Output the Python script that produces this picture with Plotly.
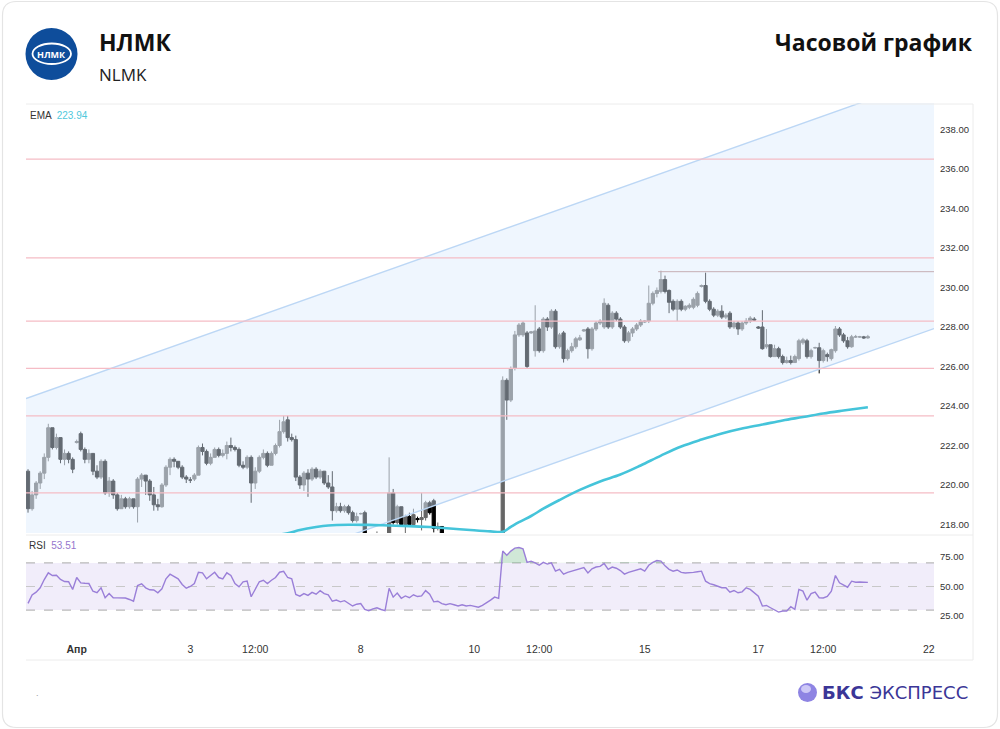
import plotly.graph_objects as go

W, H = 1000, 729

# ---------------- data ----------------
opens = [220.7, 218.8, 219.5, 220.1, 220.6, 221.4, 222.9, 221.9, 222.4, 221.3, 221.6, 221.3, 222.15,
         222.6, 221.8, 221.3, 221.6, 220.7, 220.4, 221.2, 219.6, 220.2, 219.5, 218.8, 219.3, 218.9, 219.3,
         218.9, 220.3, 220.5, 220.2, 219.5, 219.0, 218.9, 220.0, 220.9, 221.3, 221.2, 220.9, 220.4, 220.25,
         220.3, 220.5, 221.9, 221.7, 221.1, 221.4, 221.8, 221.5, 221.6, 222.0, 221.9, 221.8, 221.0, 220.9,
         221.4, 220.1, 220.7, 221.4, 221.6, 221.0, 221.6, 222.0, 222.7, 223.3, 222.4, 222.3, 220.4, 220.0,
         220.6, 220.3, 220.8, 220.4, 220.7, 220.1, 219.9, 218.7, 218.9, 218.7, 218.9, 218.6, 218.2, 218.55,
         218.6, 217.2, 217.0, 217.3, 217.4, 217.1, 216.9, 219.6, 218.1, 218.9, 218.0, 218.4, 218.0, 218.3,
         218.25, 218.35, 219.1, 219.2, 217.8, 217.9, 217.5, 217.2, 217.3, 217.1, 216.9, 217.0, 216.8, 216.9,
         216.8, 216.6, 216.8, 217.0, 217.3, 217.5, 217.4, 225.3, 224.3, 225.9, 227.6, 227.6, 227.7, 227.7,
         226.8, 227.9, 226.8, 228.4, 228.0, 228.8, 227.0, 227.7, 226.4, 226.8, 227.0, 227.35, 227.8, 227.9,
         226.9, 227.9, 228.2, 228.0, 229.1, 228.0, 228.7, 228.4, 228.0, 227.3, 227.7, 227.9, 228.1, 228.25,
         228.3, 229.2, 229.7, 229.8, 230.4, 229.85, 229.3, 228.9, 229.3, 228.9, 229.0, 229.0, 229.1, 230.05,
         230.1, 229.3, 228.9, 228.6, 228.8, 228.5, 228.7, 228.0, 228.2, 227.9, 228.2, 228.3, 228.4, 228.0,
         228.0, 227.0, 227.1, 226.5, 226.9, 226.5, 226.2, 226.3, 226.2, 226.4, 227.2, 227.3, 226.5, 226.95,
         226.95, 226.3, 226.6, 226.4, 226.8, 227.9, 227.6, 227.3, 227.0, 227.5, 227.5, 227.5, 227.45]
highs = [220.8, 219.7, 220.2, 220.7, 221.6, 223.1, 222.9, 222.6, 222.4, 221.8, 221.7, 221.4, 222.3,
         222.7, 221.9, 221.8, 221.6, 221.0, 221.3, 221.3, 220.4, 220.3, 219.6, 219.5, 219.4, 219.4, 219.3,
         220.4, 220.6, 220.5, 220.3, 219.9, 219.3, 220.1, 221.0, 221.4, 221.4, 221.2, 221.0, 220.5, 220.4,
         220.6, 222.0, 222.1, 221.8, 221.6, 221.9, 221.9, 221.8, 222.2, 222.4, 222.0, 221.9, 221.2, 221.5,
         221.5, 220.9, 221.5, 221.8, 221.7, 221.7, 222.1, 223.3, 223.5, 223.5, 222.6, 222.5, 220.5, 220.7,
         220.8, 220.9, 220.9, 220.8, 220.7, 220.5, 220.7, 219.1, 219.1, 219.0, 219.0, 218.7, 218.6, 218.6,
         218.7, 217.4, 217.5, 217.65, 217.5, 217.2, 221.4, 219.8, 219.0, 218.9, 218.5, 218.6, 218.8, 218.4,
         219.6, 219.2, 219.2, 219.3, 218.1, 217.9, 217.5, 217.4, 217.4, 217.2, 217.1, 217.1, 217.0, 217.0,
         216.9, 216.9, 217.1, 217.4, 217.5, 217.5, 225.5, 225.4, 226.0, 227.8, 228.2, 228.3, 227.8, 227.8,
         229.1, 228.0, 228.5, 228.5, 228.9, 228.9, 227.7, 227.8, 226.9, 227.2, 227.5, 227.6, 227.9, 228.0,
         228.0, 228.3, 228.4, 229.45, 229.2, 228.8, 228.8, 228.5, 228.1, 227.8, 228.0, 228.2, 228.4, 228.35,
         230.1, 229.8, 230.0, 230.85, 230.6, 229.9, 229.4, 229.4, 229.4, 229.1, 229.2, 229.5, 229.8, 230.15,
         230.75, 229.4, 229.0, 228.9, 229.1, 228.7, 228.8, 228.3, 228.3, 228.3, 228.45, 228.55, 228.5, 228.05,
         228.85, 227.9, 227.1, 227.1, 227.0, 226.6, 226.5, 226.55, 226.6, 227.4, 227.45, 227.4, 226.9, 227.0,
         227.2, 226.9, 226.7, 226.9, 228.05, 228.0, 227.7, 227.5, 227.6, 227.6, 227.55, 227.55, 227.6]
lows = [218.6, 218.7, 219.3, 219.8, 220.3, 221.2, 221.8, 221.8, 221.1, 221.0, 221.1, 220.6, 222.1,
        221.7, 221.1, 221.1, 220.5, 220.3, 220.3, 219.5, 219.4, 219.3, 218.7, 218.8, 218.8, 218.8, 218.8,
        218.1, 219.9, 219.5, 219.2, 218.7, 218.7, 218.85, 219.9, 220.5, 220.9, 220.8, 220.3, 220.1, 220.1,
        220.2, 220.5, 221.5, 221.0, 221.0, 221.4, 221.4, 221.4, 221.3, 221.7, 221.7, 220.9, 220.8, 220.8,
        219.1, 219.8, 220.6, 221.3, 220.9, 221.0, 221.5, 221.9, 222.6, 222.2, 222.2, 220.2, 219.8, 219.7,
        219.4, 220.2, 220.3, 220.3, 220.0, 219.8, 218.2, 218.6, 218.6, 218.6, 218.5, 218.1, 218.1, 218.5,
        217.0, 216.8, 216.9, 217.1, 216.9, 216.7, 216.8, 218.0, 218.0, 217.9, 217.5, 217.9, 217.9, 218.1,
        217.7, 218.2, 218.5, 217.6, 217.7, 217.4, 217.0, 217.0, 216.9, 216.7, 216.7, 216.6, 216.6, 216.6,
        216.4, 216.5, 216.7, 216.9, 217.2, 217.2, 217.2, 223.3, 224.2, 225.8, 227.5, 227.5, 225.9, 227.65,
        226.5, 226.7, 226.7, 227.8, 227.9, 226.9, 226.9, 226.2, 226.3, 226.7, 226.9, 227.3, 227.75, 226.4,
        226.8, 227.8, 228.1, 227.9, 227.9, 227.9, 228.3, 227.9, 227.2, 227.2, 227.5, 227.8, 228.0, 228.2,
        228.2, 229.1, 229.5, 229.7, 229.7, 228.7, 228.8, 228.3, 228.8, 228.8, 228.9, 228.9, 229.0, 230.0,
        229.2, 228.8, 228.5, 228.5, 228.4, 228.4, 227.9, 227.9, 227.6, 227.8, 228.1, 228.2, 228.3, 227.9,
        226.85, 226.9, 226.45, 226.5, 226.4, 226.1, 226.15, 226.1, 226.2, 226.3, 227.1, 226.4, 226.4, 226.9,
        225.65, 226.2, 226.25, 226.3, 226.7, 227.5, 227.2, 226.9, 226.95, 227.45, 227.45, 227.4, 227.4]
closes = [218.8, 219.5, 220.1, 220.6, 221.4, 222.9, 221.9, 222.4, 221.3, 221.6, 221.3, 220.8, 222.2,
          221.8, 221.3, 221.6, 220.7, 220.4, 221.2, 219.6, 220.2, 219.5, 218.8, 219.3, 218.9, 219.3, 218.9,
          220.3, 220.5, 220.2, 219.5, 219.0, 218.9, 220.0, 220.9, 221.3, 221.2, 220.9, 220.4, 220.3, 220.25,
          220.5, 221.9, 221.7, 221.1, 221.4, 221.8, 221.5, 221.6, 222.0, 221.9, 221.8, 221.0, 220.9, 221.4,
          220.1, 220.7, 221.4, 221.6, 221.0, 221.6, 222.0, 222.7, 223.2, 222.4, 222.3, 220.4, 220.0, 220.6,
          220.3, 220.8, 220.4, 220.7, 220.1, 219.9, 218.7, 218.9, 218.7, 218.9, 218.6, 218.2, 218.4, 218.55,
          217.2, 217.0, 217.3, 217.4, 217.1, 216.9, 219.6, 218.1, 218.9, 218.0, 218.4, 218.0, 218.5, 218.25,
          218.35, 219.1, 218.6, 217.8, 217.9, 217.5, 217.2, 217.3, 217.1, 216.9, 217.0, 216.8, 216.9, 216.8,
          216.6, 216.8, 217.0, 217.3, 217.5, 217.4, 225.3, 224.3, 225.9, 227.6, 228.1, 228.2, 226.0, 227.75,
          227.8, 226.8, 228.4, 228.0, 228.8, 227.0, 227.6, 226.4, 226.8, 227.0, 227.4, 227.45, 227.85, 226.9,
          227.9, 228.2, 228.3, 229.2, 228.0, 228.7, 228.4, 228.0, 227.3, 227.7, 227.9, 228.1, 228.3, 228.3,
          229.2, 229.7, 229.85, 230.4, 229.8, 229.25, 228.9, 229.3, 228.9, 229.05, 229.1, 229.4, 229.7, 230.1,
          229.3, 228.9, 228.6, 228.8, 228.5, 228.6, 228.0, 228.2, 227.9, 228.2, 228.3, 228.45, 228.35, 227.95,
          226.9, 227.1, 226.5, 226.9, 226.5, 226.2, 226.3, 226.2, 226.5, 227.3, 227.35, 226.5, 226.8, 226.95,
          226.3, 226.8, 226.5, 226.85, 227.9, 227.6, 227.3, 227.0, 227.5, 227.5, 227.5, 227.45, 227.5]

rsi = [35.7, 42.8, 45.2, 48.9, 55.9, 61.6, 59.3, 59.5, 56.0, 54.2, 54.0, 47.5, 57.6,
       53.1, 52.7, 52.5, 46.0, 44.7, 48.9, 40.5, 44.1, 40.5, 40.4, 40.4, 40.2, 39.0, 37.5,
       50.8, 52.3, 48.9, 47.2, 47.0, 44.7, 48.1, 56.5, 60.4, 58.2, 56.5, 51.7, 48.6, 50.0,
       52.5, 62.1, 61.6, 56.5, 59.3, 62.1, 57.6, 56.5, 61.6, 59.3, 52.5, 49.7, 54.0, 54.6,
       41.3, 48.1, 54.0, 55.3, 52.5, 55.3, 57.6, 62.1, 62.9, 57.6, 56.5, 43.2, 41.8, 44.0,
       42.5, 45.0, 43.5, 46.5, 44.0, 43.0, 37.5, 38.5, 37.0, 38.0, 36.0, 33.5, 35.0, 35.5,
       30.5, 29.5, 31.0, 32.0, 30.5, 29.5, 48.5, 41.0, 44.5, 40.0, 42.0, 40.5, 43.0, 41.5,
       42.0, 46.5, 43.5, 37.0, 37.5, 35.5, 34.5, 35.5, 34.5, 33.5, 34.5, 33.5, 34.0, 33.5,
       32.5, 34.0, 36.0, 38.5, 41.0, 40.0, 80.0, 76.5, 80.0, 82.5, 83.0, 82.0, 70.5, 71.5,
       70.0, 68.0, 70.5, 69.0, 70.0, 63.0, 64.5, 60.5, 62.0, 63.0, 64.5, 65.0, 66.0, 61.5,
       65.0, 66.5, 67.0, 69.5, 64.5, 66.5, 65.5, 63.5, 60.5, 62.0, 63.0, 64.0, 65.0, 63.0,
       68.0, 70.5, 72.0, 71.5, 67.5, 64.5, 63.0, 64.0, 62.0, 61.5, 61.5, 62.0, 62.5, 63.0,
       54.5, 52.5, 51.5, 50.3, 49.0, 49.0, 45.2, 46.6, 44.7, 45.5, 48.9, 47.5, 44.7, 41.8,
       33.4, 33.9, 32.0, 30.5, 28.3, 29.2, 29.2, 32.9, 30.7, 47.5, 46.1, 38.4, 44.0, 45.2,
       40.5, 40.3, 41.5, 46.0, 59.3, 53.1, 51.0, 49.4, 54.5, 53.6, 53.8, 53.6, 53.51]

bars = list(range(len(closes)))

ema_bars = [56, 64, 67, 71, 74, 79, 84, 89, 94, 99, 104, 109, 114, 117, 119, 121, 124, 127, 131,
            136, 141, 146, 151, 156, 161, 166, 171, 176, 181, 186, 191, 196, 201, 207]
ema_vals = [217.3, 217.56, 217.72, 217.87, 217.95, 217.99, 217.98, 217.95, 217.92, 217.87, 217.80,
            217.72, 217.65, 217.63, 217.88, 218.12, 218.43, 218.80, 219.24, 219.75, 220.18, 220.53,
            220.99, 221.49, 221.95, 222.30, 222.61, 222.86, 223.06, 223.27, 223.44, 223.62, 223.77, 223.94]

channel_x = [-0.5, 223.3]
channel_upper = [224.38, 240.67]
channel_lower = [211.63, 227.92]

levels = [236.5, 231.5, 228.3, 225.9, 223.5, 219.6]
high_level = 230.8
high_level_x = [155.3, 223.3]

x_range = [-0.5, 223.3]
tick_bars = [12, 40, 56, 82, 110, 126, 152, 180, 196, 222]
tick_text = ['<b>Апр</b>', '3', '12:00', '8', '10', '12:00', '15', '17', '12:00', '22']
price_ticks = [218, 220, 222, 224, 226, 228, 230, 232, 234, 236, 238]
rsi_ticks = [25, 50, 75]
rsi_levels = [30, 50, 70]

ema_last = 223.94
rsi_last = 53.51

# ---------------- helpers ----------------
def px(x):
    return x / W

def py(y):
    return 1 - y / H

fig = go.Figure()

# channel
fig.add_trace(go.Scatter(x=channel_x, y=channel_lower, mode='lines',
                         line=dict(color='#bcd7f5', width=1.4), hoverinfo='skip', showlegend=False))
fig.add_trace(go.Scatter(x=channel_x, y=channel_upper, mode='lines', fill='tonexty',
                         fillcolor='rgba(219,234,252,0.45)',
                         line=dict(color='#bcd7f5', width=1.4), hoverinfo='skip', showlegend=False))

# levels
for lv in levels:
    fig.add_trace(go.Scatter(x=x_range, y=[lv, lv], mode='lines',
                             line=dict(color='#f5bcc5', width=1.3), hoverinfo='skip', showlegend=False))
fig.add_trace(go.Scatter(x=high_level_x, y=[high_level, high_level], mode='lines',
                         line=dict(color='#c6aeb4', width=1), hoverinfo='skip', showlegend=False))

# candles
fig.add_trace(go.Candlestick(
    x=bars, open=opens, high=highs, low=lows, close=closes,
    increasing=dict(line=dict(color='#666666', width=1), fillcolor='#666666'),
    decreasing=dict(line=dict(color='#000000', width=1), fillcolor='#000000'),
    whiskerwidth=0, hoverinfo='skip', showlegend=False))

# EMA
fig.add_trace(go.Scatter(x=ema_bars, y=ema_vals, mode='lines', line_shape='spline',
                         line=dict(color='#45c4da', width=2.6), hoverinfo='skip', showlegend=False))

# RSI overbought fill
ob = [max(v, rsi_levels[2]) for v in rsi]
fig.add_trace(go.Scatter(x=bars, y=[rsi_levels[2]] * len(bars), mode='lines', line=dict(width=0),
                         yaxis='y2', hoverinfo='skip', showlegend=False))
fig.add_trace(go.Scatter(x=bars, y=ob, mode='lines', line=dict(width=0), fill='tonexty',
                         fillcolor='rgba(120,190,140,0.35)', yaxis='y2', hoverinfo='skip', showlegend=False))
# RSI line
fig.add_trace(go.Scatter(x=bars, y=rsi, mode='lines', line=dict(color='#9a7fd8', width=1.4),
                         yaxis='y2', hoverinfo='skip', showlegend=False))

shapes = []
# RSI band
shapes.append(dict(type='rect', xref='paper', yref='y2', x0=px(26), x1=px(934),
                   y0=rsi_levels[0], y1=rsi_levels[2], fillcolor='#f1edfa', line=dict(width=0), layer='below'))
for lv, col in zip(rsi_levels, ['#a8a8a8', '#c8c8c8', '#a8a8a8']):
    shapes.append(dict(type='line', xref='paper', yref='y2', x0=px(26), x1=px(934), y0=lv, y1=lv,
                       line=dict(color=col, width=1, dash='dash'), layer='below'))
# pane separators
for yy in [104, 535, 660]:
    shapes.append(dict(type='line', xref='paper', yref='paper', x0=px(26), x1=px(973),
                       y0=py(yy), y1=py(yy), line=dict(color='#ececec', width=1)))
shapes.append(dict(type='line', xref='paper', yref='paper', x0=px(973), x1=px(973),
                   y0=py(104), y1=py(660), line=dict(color='#ececec', width=1)))
# card border with rounded corners
x0, x1, y0, y1 = px(2.5), px(997.5), py(727.5), py(1.5)
rx, ry = 14 / W, 14 / H
path = (f"M {x0+rx},{y1} L {x1-rx},{y1} Q {x1},{y1} {x1},{y1-ry} L {x1},{y0+ry} "
        f"Q {x1},{y0} {x1-rx},{y0} L {x0+rx},{y0} Q {x0},{y0} {x0},{y0+ry} L {x0},{y1-ry} "
        f"Q {x0},{y1} {x0+rx},{y1} Z")
shapes.append(dict(type='path', xref='paper', yref='paper', path=path,
                   line=dict(color='#e4e4e4', width=1.2), layer='below'))
# logo circle
shapes.append(dict(type='circle', xref='paper', yref='paper', x0=px(25.5), x1=px(77.5),
                   y0=py(80), y1=py(28), fillcolor='#0e4d9b', line=dict(width=0)))
shapes.append(dict(type='circle', xref='paper', yref='paper', x0=px(32.5), x1=px(71),
                   y0=py(64), y1=py(43.5), fillcolor='rgba(0,0,0,0)', line=dict(color='white', width=1.8)))
# BKS sphere
shapes.append(dict(type='circle', xref='paper', yref='paper', x0=px(798), x1=px(817),
                   y0=py(702), y1=py(683), fillcolor='#8e84e3', line=dict(width=0)))
shapes.append(dict(type='circle', xref='paper', yref='paper', x0=px(801), x1=px(811),
                   y0=py(693), y1=py(685), fillcolor='#cdc8f6', line=dict(width=0)))

annotations = [
    dict(text='<b>НЛМК</b>', x=px(97), y=py(42), xref='paper', yref='paper', xanchor='left', yanchor='middle',
         showarrow=False, font=dict(family='Open Sans', size=23, color='#111111')),
    dict(text='NLMK', x=px(97), y=py(74), xref='paper', yref='paper', xanchor='left', yanchor='middle',
         showarrow=False, font=dict(family='Open Sans', size=17, color='#222222')),
    dict(text='<b>Часовой график</b>', x=px(975), y=py(42), xref='paper', yref='paper', xanchor='right',
         yanchor='middle', showarrow=False, font=dict(family='Open Sans', size=23, color='#111111')),
    dict(text='<b>НЛМК</b>', x=px(51.7), y=py(54), xref='paper', yref='paper', xanchor='center',
         yanchor='middle', showarrow=False, font=dict(family='Open Sans', size=9, color='white')),
    dict(text=f'EMA  <span style="color:#4fc8dc">{ema_last:.2f}</span>', x=px(28), y=py(116),
         xref='paper', yref='paper', xanchor='left', yanchor='middle', showarrow=False,
         font=dict(family='Liberation Sans', size=10, color='#333333')),
    dict(text=f'RSI  <span style="color:#9575cd">{rsi_last:.2f}</span>', x=px(27), y=py(545),
         xref='paper', yref='paper', xanchor='left', yanchor='middle', showarrow=False,
         font=dict(family='Liberation Sans', size=10, color='#333333')),
    dict(text='<b>БКС</b> ЭКСПРЕСС', x=px(820), y=py(692), xref='paper', yref='paper', xanchor='left',
         yanchor='middle', showarrow=False, font=dict(family='DejaVu Sans', size=18, color='#3b3697')),
    dict(text='.', x=px(37), y=py(693), xref='paper', yref='paper', xanchor='center', yanchor='middle',
         showarrow=False, font=dict(family='Liberation Sans', size=9, color='#999999')),
]

fig.update_layout(
    width=W, height=H, margin=dict(l=0, r=0, t=0, b=0),
    paper_bgcolor='white', plot_bgcolor='rgba(0,0,0,0)',
    showlegend=False, shapes=shapes, annotations=annotations,
    boxgap=0.12, boxgroupgap=0.1,
    xaxis=dict(domain=[px(26), px(934)], range=x_range, anchor='y2',
               tickvals=tick_bars, ticktext=tick_text, ticks='', showgrid=False, zeroline=False,
               showline=False, rangeslider=dict(visible=False), ticklabelstandoff=5,
               tickfont=dict(family='Liberation Sans', size=10.5, color='#333333')),
    yaxis=dict(domain=[py(533), py(103)], range=[217.57, 239.34], anchor='x', side='right',
               tickvals=price_ticks, tickformat='.2f', ticks='', showgrid=False, zeroline=False,
               showline=False, ticklabelstandoff=5,
               tickfont=dict(family='Liberation Sans', size=9.5, color='#333333')),
    yaxis2=dict(domain=[py(636), py(538)], range=[8.05, 91.1], anchor='x', side='right',
                tickvals=rsi_ticks, tickformat='.2f', ticks='', showgrid=False, zeroline=False,
                showline=False, ticklabelstandoff=5,
                tickfont=dict(family='Liberation Sans', size=9.5, color='#333333')),
)

fig.write_html('out.html', config={'displayModeBar': False, 'responsive': False})
